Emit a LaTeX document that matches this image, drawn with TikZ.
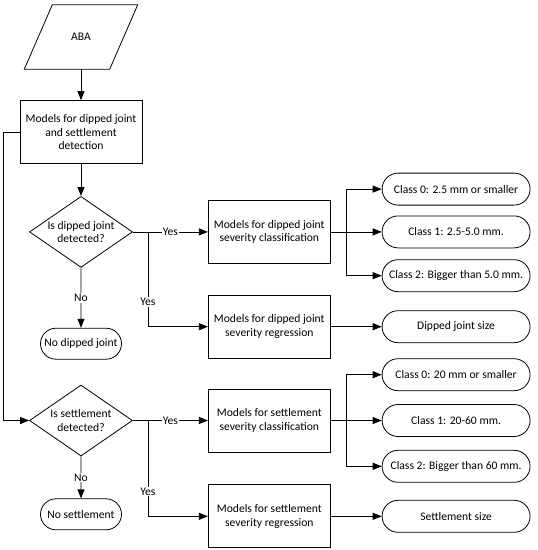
\documentclass[tikz,border=0pt]{standalone}
\usepackage{fontspec}
\setmainfont{Carlito}
\usetikzlibrary{
    positioning,
    arrows.meta,
    shapes.geometric,
    shapes.misc,
    calc
}

\begin{document}
\begin{tikzpicture}[
    x=1pt, y=1pt,
    node distance=31pt,
    every node/.style={font=\fontsize{11.6}{13.6}\selectfont},
    data/.style={rectangle, align=center, minimum width=85pt, minimum height=64pt, inner sep=0pt},
    process/.style={rectangle, draw, line width=0.8pt, align=center, minimum width=122pt, minimum height=63pt, inner sep=2pt},
    decision/.style={diamond, aspect=1.45, draw, line width=0.8pt, align=center, minimum width=103pt, minimum height=71pt, inner sep=-1pt},
    terminal/.style={rounded rectangle, draw, line width=0.8pt, align=center, minimum width=85pt, minimum height=31pt, inner sep=2pt},
    result/.style={rounded rectangle, draw, line width=0.8pt, align=center, minimum width=152pt, minimum height=32pt, inner sep=2pt},
    answer/.style={fill=white, inner sep=1pt},
    arrow/.style={-{Triangle[length=9pt,width=7pt]}, line width=0.8pt}
]
\useasboundingbox (0,0) rectangle (538,-550);

\node[data] (aba) at (81,-37) {ABA};
\draw[line width=0.8pt] ($(aba.south west)+(-14pt,0)$) -- ($(aba.north west)+(14pt,0)$)
    -- ($(aba.north east)+(14pt,0)$) -- ($(aba.south east)+(-14pt,0)$) -- cycle;
\node[process, below=31pt of aba] (detect) {Models for dipped joint\\and settlement\\detection};
\node[decision, below=32pt of detect] (dipcheck) {Is dipped joint\\detected?};
\node[terminal, below=60pt of dipcheck] (nodip) {No dipped joint};
\node[decision, below=25pt of nodip] (setcheck) {Is settlement\\detected?};
\node[terminal, below=42pt of setcheck] (noset) {No settlement};

\node[process, right=75pt of dipcheck] (dipclass) {Models for dipped joint\\severity classification};
\node[process, below=31pt of dipclass] (dipreg) {Models for dipped joint\\severity regression};
\node[process, right=75pt of setcheck] (setclass) {Models for settlement\\severity classification};
\node[process, below=32pt of setclass] (setreg) {Models for settlement\\severity regression};

\node[result, right=51pt of dipclass] (dipc1) {Class 1: 2.5-5.0 mm.};
\node[result, above=10pt of dipc1] (dipc0) {Class 0: 2.5 mm or smaller};
\node[result, below=11pt of dipc1] (dipc2) {Class 2: Bigger than 5.0 mm.};
\node[result, right=51pt of dipreg] (dipsize) {Dipped joint size};

\node[result, right=51pt of setclass] (setc1) {Class 1: 20-60 mm.};
\node[result, above=13pt of setc1] (setc0) {Class 0: 20 mm or smaller};
\node[result, below=13pt of setc1] (setc2) {Class 2: Bigger than 60 mm.};
\node[result, right=51pt of setreg] (setsize) {Settlement size};

\draw[arrow] (aba) -- (detect);
\draw[arrow] (detect) -- (dipcheck);
\draw[arrow] (detect.west) -- ++(-16pt,0) |- (setcheck);
\draw[arrow] (dipcheck) -- node[answer]{No} (nodip);
\draw[arrow] (dipcheck) -- node[answer]{Yes} (dipclass);
\draw[arrow] (dipcheck.east) -- ++(15pt,0) |- node[answer, pos=0.37]{Yes} (dipreg);
\draw[arrow] (setcheck) -- node[answer]{No} (noset);
\draw[arrow] (setcheck) -- node[answer]{Yes} (setclass);
\draw[arrow] (setcheck.east) -- ++(15pt,0) |- node[answer, pos=0.37]{Yes} (setreg);

\foreach \c in {dipc0, dipc1, dipc2}
    \draw[arrow] (dipclass.east) -- ++(16pt,0) |- (\c);
\draw[arrow] (dipreg) -- (dipsize);
\foreach \c in {setc0, setc1, setc2}
    \draw[arrow] (setclass.east) -- ++(16pt,0) |- (\c);
\draw[arrow] (setreg) -- (setsize);

\end{tikzpicture}
\end{document}
